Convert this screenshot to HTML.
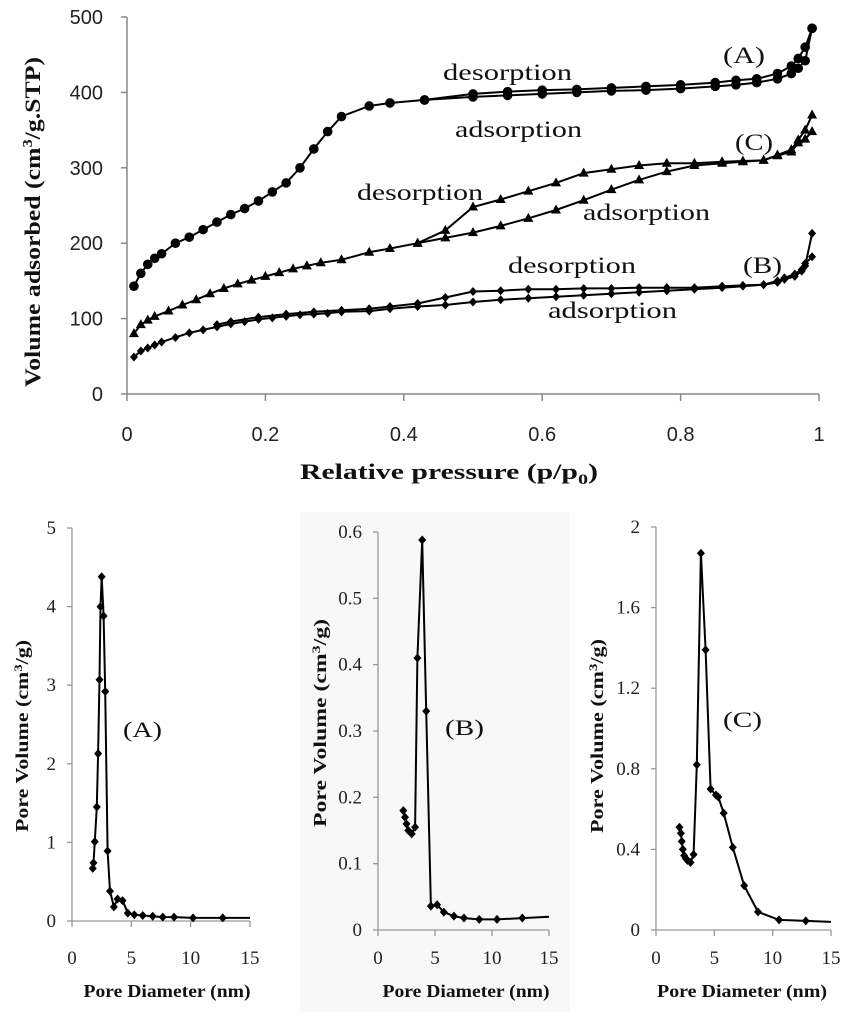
<!DOCTYPE html>
<html><head><meta charset="utf-8"><style>
html,body{margin:0;padding:0;background:#fff;}
svg{display:block;}
.tk{font-family:"Liberation Sans",sans-serif;font-size:20px;fill:#222;}
.st{font-family:"Liberation Serif",serif;font-size:19px;fill:#222;}
.ser{font-family:"Liberation Serif",serif;fill:#111;}
</style></head><body>
<svg id="fig" width="843" height="1019" viewBox="0 0 843 1019" xmlns="http://www.w3.org/2000/svg">
<rect x="300" y="512" width="270" height="500" fill="#f8f8f8"/>
<g id="topchart"></g>
<g id="pa"></g>
<g id="pb"></g>
<g id="pc"></g>
</svg>
<script>
// ---- Isotherm data ----
const aAdsP = [0.01,0.02,0.03,0.04,0.05,0.07,0.09,0.11,0.13,0.15,0.17,0.19,0.21,0.23,0.25,0.27,0.29,0.31,0.35,0.38,0.43,0.5,0.55,0.6,0.65,0.7,0.75,0.8,0.85,0.88,0.91,0.94,0.96,0.97,0.98,0.99];
const aAdsV = [143,160,172,180,186,200,208,218,228,238,246,256,268,280,300,325,348,368,382,386,390,394,396,398,400,402,403,405,408,410,413,418,425,432,442,485];
const aDesP = [0.99,0.98,0.97,0.96,0.94,0.91,0.88,0.85,0.8,0.75,0.7,0.65,0.6,0.55,0.5,0.43];
const aDesV = [485,460,445,435,425,418,416,413,410,408,406,404,403,401,398,390];
const cAdsP = [0.01,0.02,0.03,0.04,0.06,0.08,0.1,0.12,0.14,0.16,0.18,0.2,0.22,0.24,0.26,0.28,0.31,0.35,0.38,0.42,0.46,0.5,0.54,0.58,0.62,0.66,0.7,0.74,0.78,0.82,0.86,0.89,0.92,0.94,0.96,0.97,0.98,0.99];
const cAdsV = [80,92,98,103,110,118,125,133,140,146,151,156,161,166,170,174,178,188,193,200,207,214,223,233,244,257,271,284,295,303,306,308,310,316,321,333,338,348];
const cDesP = [0.99,0.98,0.97,0.96,0.94,0.92,0.89,0.86,0.82,0.78,0.74,0.7,0.66,0.62,0.58,0.54,0.5,0.46,0.42];
const cDesV = [370,350,337,324,317,310,309,308,306,306,303,298,293,280,269,258,248,217,200];
const bAdsP = [0.01,0.02,0.03,0.04,0.05,0.07,0.09,0.11,0.13,0.15,0.17,0.19,0.21,0.23,0.25,0.27,0.29,0.31,0.35,0.38,0.42,0.46,0.5,0.54,0.58,0.62,0.66,0.7,0.74,0.78,0.82,0.86,0.89,0.92,0.94,0.95,0.965,0.975,0.98,0.99];
const bAdsV = [49,57,61,65,69,75,81,85,89,93,96,99,101,103,105,106,107,109,110,113,116,118,122,125,127,129,131,133,135,137,139,141,143,145,148,152,156,163,173,182];
const bDesP = [0.99,0.98,0.975,0.965,0.95,0.94,0.92,0.89,0.86,0.82,0.78,0.74,0.7,0.66,0.62,0.58,0.54,0.5,0.46,0.42,0.38,0.35,0.31,0.27,0.23,0.19,0.15,0.13];
const bDesV = [213,170,165,159,154,150,145,144,143,141,141,141,140,140,139,139,137,136,128,120,116,113,111,109,106,102,96,92];
const topXTicks = [0,0.2,0.4,0.6,0.8,1];
const topXLabels = ["0","0.2","0.4","0.6","0.8","1"];
const topYTicks = [0,100,200,300,400,500];
// ---- Pore size data ----
const poreAx = [1.75,1.81,1.92,2.09,2.2,2.32,2.4,2.5,2.66,2.8,3.0,3.2,3.53,3.84,4.26,4.7,5.25,5.96,6.8,7.65,8.6,10.2,12.7,15];
const poreAy = [0.67,0.74,1.01,1.45,2.13,3.07,4.0,4.38,3.88,2.92,0.89,0.38,0.18,0.28,0.26,0.1,0.08,0.07,0.06,0.05,0.05,0.04,0.04,0.04];
const poreBx = [2.22,2.37,2.5,2.66,2.96,3.25,3.46,3.88,4.23,4.64,5.18,5.77,6.66,7.54,8.88,10.44,12.66,15];
const poreBy = [0.18,0.17,0.16,0.15,0.145,0.155,0.41,0.588,0.33,0.036,0.038,0.027,0.021,0.018,0.016,0.016,0.018,0.02];
const poreCx = [2.01,2.13,2.21,2.3,2.41,2.56,2.7,2.96,3.22,3.5,3.85,4.25,4.68,5.14,5.34,5.8,6.58,7.56,8.74,10.55,12.84,15];
const poreCy = [0.51,0.48,0.44,0.4,0.37,0.355,0.345,0.335,0.375,0.82,1.87,1.39,0.7,0.67,0.66,0.58,0.41,0.22,0.09,0.05,0.045,0.04];
const poreXTicks = [0,5,10,15];
const poreAyTicks = [0,1,2,3,4,5];
const poreByTicks = [0,0.1,0.2,0.3,0.4,0.5,0.6];
const poreCyTicks = [0,0.4,0.8,1.2,1.6,2];
const poreCyLabels = ["0","0.4","0.8","1.2","1.6","2"];

const NS="http://www.w3.org/2000/svg";
function mk(parent,tag,attrs,text){const e=document.createElementNS(NS,tag);for(const k in attrs)e.setAttribute(k,attrs[k]);if(text!==undefined)e.textContent=text;parent.appendChild(e);return e;}

// ---- top chart ----
const topG=document.getElementById('topchart');
const tx=p=>127+p*692, ty=v=>394-v*0.754;
const axT=mk(topG,'path',{d:`M${tx(0)},${ty(500)}V${ty(0)}H${tx(1)}`,fill:'none',stroke:'#888','stroke-width':1.5});


topYTicks.forEach(v=>{
  const l=mk(topG,'line',{x1:tx(0)-6,x2:tx(0),y1:ty(v),y2:ty(v),stroke:'#888','stroke-width':1.5});
  
  
  const t=mk(topG,'text',{x:103,y:ty(v)+7,'text-anchor':'end',class:'tk'},String(v));
  
  
});
topXTicks.forEach((p,i)=>{
  const l=mk(topG,'line',{x1:tx(p),x2:tx(p),y1:ty(0),y2:ty(0)+7,stroke:'#888','stroke-width':1.5});
  
  
  const t=mk(topG,'text',{x:tx(p),y:441,'text-anchor':'middle',class:'tk'},topXLabels[i]);
  
  
});
function marker(g,shape,x,y){
  let m;
  if(shape==='circle') m=mk(g,'circle',{cx:x,cy:y,r:4.8,fill:'#000'});
  else if(shape==='tri') m=mk(g,'path',{d:`M${x},${y-5.5}L${x+5},${y+3.5}L${x-5},${y+3.5}Z`,fill:'#000'});
  else m=mk(g,'path',{d:`M${x},${y-4.5}L${x+4},${y}L${x},${y+4.5}L${x-4},${y}Z`,fill:'#000'});
  
  
}
function series(name,P,V,shape){
  const g=mk(topG,'g',{});
  
  
  const d=P.map((p,i)=>(i?'L':'M')+tx(p).toFixed(1)+','+ty(V[i]).toFixed(1)).join('');
  mk(g,'path',{d:d,fill:'none',stroke:'#000','stroke-width':2});
  P.forEach((p,i)=>marker(g,shape,tx(p),ty(V[i])));
}
series('series-a-adsorption',aAdsP,aAdsV,'circle');
series('series-a-desorption',aDesP,aDesV,'circle');
series('series-c-adsorption',cAdsP,cAdsV,'tri');
series('series-c-desorption',cDesP,cDesV,'tri');
series('series-b-adsorption',bAdsP,bAdsV,'diamond');
series('series-b-desorption',bDesP,bDesV,'diamond');
function lab(g,name,x,y,txt,len,size){
  const t=mk(g,'text',{x:x,y:y,class:'ser','font-size':size,textLength:len,lengthAdjust:'spacingAndGlyphs'},txt);
  
  
  return t;
}
lab(topG,'label-a-desorption',443,80,'desorption',129,23);
lab(topG,'label-a-adsorption',455,137,'adsorption',127,23);
lab(topG,'label-a',723,63,'(A)',42,23);
lab(topG,'label-c',735,150,'(C)',38,23);
lab(topG,'label-c-desorption',357,200,'desorption',126,23);
lab(topG,'label-c-adsorption',583,220,'adsorption',127,23);
lab(topG,'label-b-desorption',508,273,'desorption',128,23);
lab(topG,'label-b',743,273,'(B)',39,23);
lab(topG,'label-b-adsorption',548,318,'adsorption',129,23);
const ytT=mk(topG,'text',{x:0,y:0,class:'ser','font-size':22,'font-weight':'bold',transform:'translate(40,222) rotate(-90)','text-anchor':'middle',textLength:330,lengthAdjust:'spacingAndGlyphs'});


ytT.innerHTML='Volume adsorbed (cm<tspan dy="-8" font-size="14">3</tspan><tspan dy="8">/g.STP)</tspan>';
const xtT=mk(topG,'text',{x:300,y:479,class:'ser','font-size':22,'font-weight':'bold',textLength:298,lengthAdjust:'spacingAndGlyphs'});


xtT.innerHTML='Relative pressure (p/p<tspan dy="5" font-size="15">0</tspan><tspan dy="-5">)</tspan>';

// ---- pore panels ----
function pore(id,X,Y,x0,x15,y0,ytop,ymax,yTicks,yLabels,lblX,lblY,lblTxt,titleX,titleCy,titleLen){
  const g=document.getElementById(id);
  const px=d=>x0+d*(x15-x0)/15, py=v=>y0-v*(y0-ytop)/ymax;
  const a=mk(g,'path',{d:`M${px(0)},${py(ymax)}V${py(0)}H${px(15)}`,fill:'none',stroke:'#999','stroke-width':1.3});
  
  
  yTicks.forEach((v,i)=>{
    const l=mk(g,'line',{x1:px(0)-5,x2:px(0),y1:py(v),y2:py(v),stroke:'#999','stroke-width':1.3});
    
    
    const t=mk(g,'text',{x:px(0)-16,y:py(v)+6,'text-anchor':'end',class:'st'},yLabels?yLabels[i]:String(v));
    
    
  });
  poreXTicks.forEach(d=>{
    const l=mk(g,'line',{x1:px(d),x2:px(d),y1:py(0),y2:py(0)+6,stroke:'#999','stroke-width':1.3});
    
    
    const t=mk(g,'text',{x:px(d),y:964,'text-anchor':'middle',class:'st'},String(d));
    
    
  });
  const d=X.map((x,i)=>(i?'L':'M')+px(x).toFixed(1)+','+py(Y[i]).toFixed(1)).join('');
  const ln=mk(g,'path',{d:d,fill:'none',stroke:'#000','stroke-width':2});
  
  
  X.forEach((x,i)=>{if(x<15)marker(g,'diamond',px(x),py(Y[i]));});
  lab(g,'panel-label',lblX,lblY,lblTxt,lblTxt.length*13,22);
  const xt=mk(g,'text',{x:titleX,y:997,'text-anchor':'middle',class:'ser','font-size':18,'font-weight':'bold',textLength:titleLen,lengthAdjust:'spacingAndGlyphs'},'Pore Diameter (nm)');
  
  
  const yt=mk(g,'text',{x:0,y:0,class:'ser','font-size':18,'font-weight':'bold','text-anchor':'middle',transform:`translate(${titleCy[0]},${titleCy[1]}) rotate(-90)`,textLength:titleCy[2],lengthAdjust:'spacingAndGlyphs'});
  
  
  yt.innerHTML='Pore Volume (cm<tspan dy="-6" font-size="12">3</tspan><tspan dy="6">/g)</tspan>';
}
pore('pa',poreAx,poreAy,72,250,921,528,5,poreAyTicks,null,123,737,'(A)',167,[28,736,192],167);
pore('pb',poreBx,poreBy,378,549,930,532,0.6,poreByTicks,null,445,735,'(B)',466,[326,723,208],167);
pore('pc',poreCx,poreCy,656,831,930,527,2,poreCyTicks,poreCyLabels,723,727,'(C)',742,[603,736,194],170);
</script>
</body></html>
